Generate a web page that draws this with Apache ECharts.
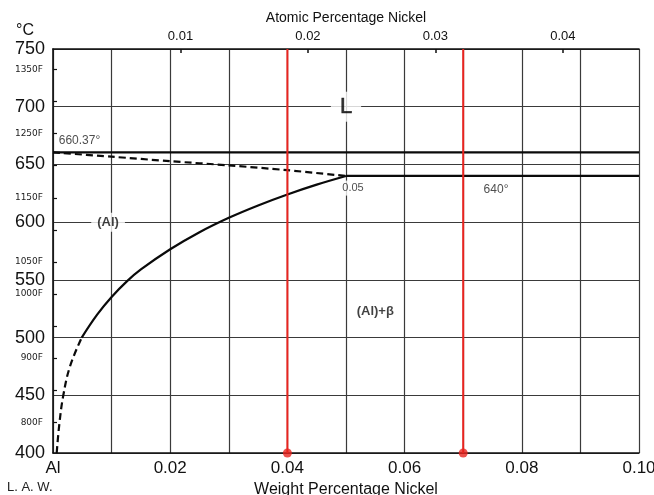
<!DOCTYPE html>
<html>
<head>
<meta charset="utf-8">
<title>Al-Ni phase diagram (Al-rich end)</title>
<script src="https://cdn.jsdelivr.net/npm/echarts@6/dist/echarts.min.js"></script>
<style>
  html, body { margin: 0; padding: 0; background: #fff; }
  #chart { width: 654px; height: 495px; }
</style>
</head>
<body>
<div id="chart"></div>
<script>
// Weight % Ni -> atomic % Ni near the Al corner (M_Al / M_Ni)
const ATOMIC_PER_WEIGHT = 26.98 / 58.69;

// Temperature gridlines (deg C) and the Fahrenheit side ticks
const celsiusTicks = [400, 450, 500, 550, 600, 650, 700, 750];
const fahrenheitTicks = [800, 850, 900, 950, 1000, 1050, 1100, 1150, 1200, 1250, 1300, 1350];
const fahrenheitLabels = [800, 900, 1000, 1050, 1150, 1250, 1350];
const weightLabels = [0, 0.02, 0.04, 0.06, 0.08, 0.10];
const atomicLabels = [0.01, 0.02, 0.03, 0.04];

// Melting point of Al and the eutectic isotherm
const meltingLine = [[0, 660.37], [0.10, 660.37]];
const eutecticLine = [[0.05, 640], [0.10, 640]];
// Liquidus (dashed)
const liquidus = [[0, 660.37], [0.01, 656.7], [0.02, 652.8], [0.03, 649.2], [0.04, 645.0], [0.05, 640]];
// Solvus of (Al): extrapolated part (dashed) and measured part (solid)
const solvusDashed = [[0.00063, 400], [0.00108, 425], [0.00176, 450], [0.0029, 475], [0.0049, 500]];
const solvusSolid = [[0.0049, 500], [0.0075, 519.7], [0.01, 535.2], [0.0126, 548.7], [0.015, 559],
                     [0.02, 576.5], [0.025, 591.3], [0.03, 603.8], [0.035, 614.5], [0.04, 624],
                     [0.045, 632.5], [0.05, 640]];
// Alloy compositions marked in red
const markedAlloys = [0.04, 0.07];

// Field and point labels
const labelText = ['660.37°', 'L', '(Al)', '0.05', '640°', '(Al)+β'];
const labelX    = [0.00452, 0.05, 0.0094, 0.0512, 0.0756, 0.055];
const labelY    = [671, 700, 600, 629.5, 628.5, 522.5];

const FONT = 'Liberation Sans';
const labelStyles = [
  { fontSize: 12, fontFamily: FONT, color: '#222', padding: [1, 2] },
  { fontSize: 22, fontFamily: FONT, color: '#000', backgroundColor: '#fff', padding: [4, 9], textBorderColor: '#000', textBorderWidth: 0.6 },
  { fontSize: 13, fontWeight: 'bold', fontFamily: FONT, color: '#111', backgroundColor: '#fff', padding: [3, 6] },
  { fontSize: 11, fontFamily: FONT, color: '#222', backgroundColor: '#fff', padding: [2, 2] },
  { fontSize: 12, fontFamily: FONT, color: '#222', padding: [1, 2] },
  { fontSize: 13, fontWeight: 'bold', fontFamily: FONT, color: '#111', padding: [1, 2] }
];

const chart = echarts.init(document.getElementById('chart'));

function curve(data, width, dashed, smooth) {
  return {
    type: 'line', data: data, symbol: 'none', smooth: smooth || false, z: 3,
    lineStyle: { color: '#0a0a0a', width: width, type: dashed ? [7, 4] : 'solid' },
    silent: true, animation: false
  };
}

const series = [
  curve(meltingLine, 2.2, false),
  curve(eutecticLine, 2.2, false),
  curve(liquidus, 2.2, true, 0.3),
  curve(solvusSolid, 2.2, false, 0.4),
  curve(solvusDashed, 2.2, true, 0.4)
];

markedAlloys.forEach(function (x) {
  series.push({
    type: 'line', data: [[x, 400], [x, 750]], symbol: 'none', z: 4,
    lineStyle: { color: '#e8241f', width: 2 }, silent: true, animation: false
  });
});
series.push({
  type: 'scatter', z: 5, symbol: 'circle', symbolSize: 9,
  itemStyle: { color: '#e8241f' },
  data: markedAlloys.map(function (x) { return [x, 400]; }),
  silent: true, animation: false
});

series.push({
  type: 'scatter', z: 6, symbolSize: 1, itemStyle: { color: 'rgba(0,0,0,0)' },
  silent: true, animation: false,
  data: labelText.map(function (t, i) {
    return {
      value: [labelX[i], labelY[i]],
      label: Object.assign({ show: true, position: 'inside', formatter: t }, labelStyles[i])
    };
  })
});

const gridLine = { show: true, lineStyle: { color: '#3a3a3a', width: 1.2 } };
const borderLine = { show: true, lineStyle: { color: '#111', width: 1.6 } };

chart.setOption({
  backgroundColor: '#fff',
  animation: false,
  grid: { left: 53, right: 15, top: 49, bottom: 42, outerBoundsMode: 'none', containLabel: false },
  xAxis: [
    {
      type: 'value', position: 'bottom', min: 0, max: 0.10, interval: 0.01,
      axisLine: borderLine, axisTick: { show: false }, splitLine: gridLine,
      axisLabel: {
        customValues: weightLabels, margin: 7, fontSize: 17, fontFamily: FONT, color: '#111',
        formatter: function (v) { return v === 0 ? 'Al' : v.toFixed(2); }
      },
      name: 'Weight Percentage Nickel', nameLocation: 'middle', nameGap: 27,
      nameTextStyle: { fontSize: 16, fontFamily: FONT, color: '#111' }
    },
    {
      type: 'value', position: 'top', min: 0, max: 0.10 * ATOMIC_PER_WEIGHT, interval: 0.01,
      axisLine: borderLine, splitLine: { show: false },
      axisTick: { show: true, inside: true, length: 4, customValues: atomicLabels, lineStyle: { color: '#111', width: 1.5 } },
      axisLabel: {
        customValues: atomicLabels, margin: 6, fontSize: 13, fontFamily: FONT, color: '#111',
        formatter: function (v) { return v.toFixed(2); }
      },
      name: 'Atomic Percentage Nickel', nameLocation: 'middle', nameGap: 23,
      nameTextStyle: { fontSize: 14, fontFamily: FONT, color: '#111' }
    }
  ],
  yAxis: [
    {
      type: 'value', position: 'left', min: 400, max: 750, interval: 50,
      axisLine: borderLine, axisTick: { show: false }, splitLine: gridLine,
      axisLabel: { customValues: celsiusTicks, margin: 8, fontSize: 18, fontFamily: FONT, color: '#111' },
      name: '°C', nameLocation: 'end', nameGap: 10,
      nameTextStyle: { fontSize: 16, fontFamily: FONT, color: '#111', align: 'right', padding: [0, 19, 0, 0] }
    },
    {
      type: 'value', position: 'left', min: 400 * 9 / 5 + 32, max: 750 * 9 / 5 + 32,
      axisLine: { show: false }, splitLine: { show: false },
      axisTick: { show: true, inside: true, length: 4, customValues: fahrenheitTicks, lineStyle: { color: '#111', width: 1.2 } },
      axisLabel: {
        customValues: fahrenheitLabels, margin: 10, fontSize: 9, fontFamily: 'DejaVu Sans', color: '#222',
        formatter: function (v) { return v + 'F'; }
      }
    }
  ],
  graphic: [
    { type: 'text', left: 7, top: 481, style: { text: 'L. A. W.', fontSize: 13, fontFamily: FONT, fill: '#222' } }
  ],
  series: series
});
</script>
</body>
</html>
